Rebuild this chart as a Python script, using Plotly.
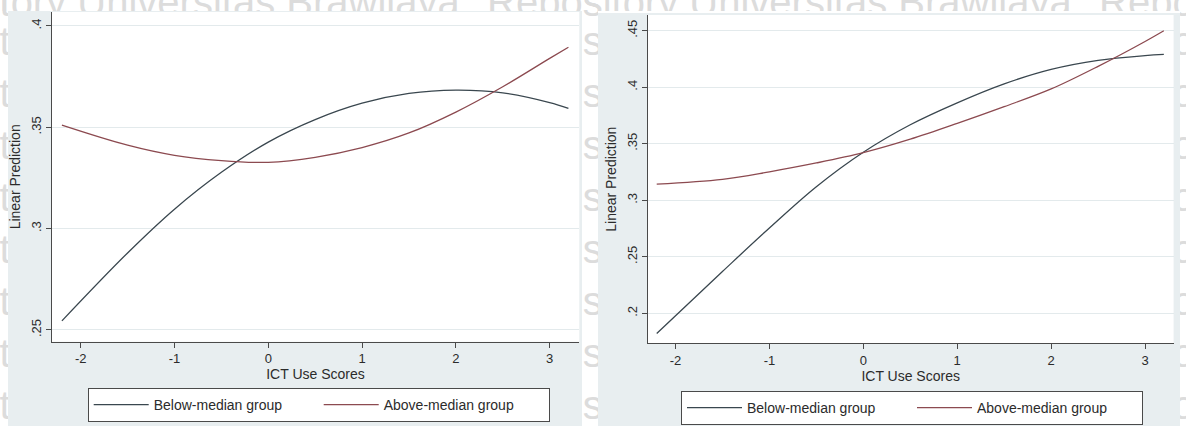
import plotly.graph_objects as go

# ICT use score grid at which the fitted predictions are evaluated
ict_scores = [-2.2, -1.5, -1, -0.5, 0, 0.5, 1, 1.5, 2, 2.5, 3, 3.2]

# Panel 1: linear predictions by group
p1_below = [0.2545, 0.2880, 0.3096, 0.3278, 0.3427, 0.3538, 0.3619, 0.3667, 0.3683, 0.3670, 0.3622, 0.3593]
p1_above = [0.3511, 0.3412, 0.3362, 0.3336, 0.3327, 0.3352, 0.3400, 0.3472, 0.3575, 0.3700, 0.3840, 0.3895]

# Panel 2: linear predictions by group
p2_below = [0.1822, 0.2370, 0.2755, 0.3120, 0.3425, 0.3668, 0.3862, 0.4030, 0.4158, 0.4238, 0.4280, 0.4290]
p2_above = [0.3143, 0.3185, 0.3252, 0.3330, 0.3421, 0.3540, 0.3680, 0.3828, 0.3985, 0.4185, 0.4405, 0.4500]

x_ticks = [-2, -1, 0, 1, 2, 3]
x_ticktext = ["-2", "-1", "0", "1", "2", "3"]
p1_yticks = [0.25, 0.30, 0.35, 0.40]
p1_yticktext = [".25", ".3", ".35", ".4"]
p2_yticks = [0.20, 0.25, 0.30, 0.35, 0.40, 0.45]
p2_yticktext = [".2", ".25", ".3", ".35", ".4", ".45"]

series_names = ["Below-median group", "Above-median group"]

# page watermark behind the two graphs
watermark_text = "Repository Universitas Brawijaya"
watermark_x = [-125, 487, 1099]
watermark_y = [6, 45, 97, 149, 201, 253, 305, 357, 409]

BELOW_COLOR = "#3a474f"
ABOVE_COLOR = "#8c4a50"

W, H = 1186, 426
FONT = "Liberation Sans, Arial, sans-serif"
TEXT = "#2b2b2b"
AXIS = "#4a4a4a"
GRID = "#e3eaec"
REGION = "#e8eef0"
MARK = "#dcdcdc"


def fx(px):
    return px / W


def fy(px):
    return 1 - px / H


fig = go.Figure()

# watermark, shown only in the page strips around the graphs
strips = [
    ("x3", "y3", (0, W), (0, 11)),      # top strip
    ("x4", "y4", (582, 598), (0, H)),   # gap between the graphs
    ("x5", "y5", (0, 8), (0, H)),       # left page edge
    ("x6", "y6", (1180, W), (0, H)),    # right page edge
]
wm_x, wm_y = [], []
for yy in watermark_y:
    for xx in watermark_x:
        wm_x.append(xx)
        wm_y.append(yy)
for xa, ya, _, _ in strips:
    fig.add_trace(go.Scatter(
        x=wm_x, y=wm_y, mode="text", text=[watermark_text] * len(wm_x),
        textposition="middle right", cliponaxis=True, showlegend=False,
        textfont=dict(size=40, color=MARK, family=FONT), hoverinfo="skip",
        xaxis=xa, yaxis=ya,
    ))

panels = [
    ("x", "y", "legend", p1_below, p1_above),
    ("x2", "y2", "legend2", p2_below, p2_above),
]
for xa, ya, leg, below, above in panels:
    fig.add_trace(go.Scatter(
        x=ict_scores, y=below, name=series_names[0], mode="lines",
        line=dict(color=BELOW_COLOR, width=1.3, shape="spline", smoothing=1),
        xaxis=xa, yaxis=ya, legend=leg,
    ))
    fig.add_trace(go.Scatter(
        x=ict_scores, y=above, name=series_names[1], mode="lines",
        line=dict(color=ABOVE_COLOR, width=1.3, shape="spline", smoothing=1),
        xaxis=xa, yaxis=ya, legend=leg,
    ))

xaxis_common = dict(
    tickvals=x_ticks, ticktext=x_ticktext, ticks="outside", ticklen=5,
    tickcolor=AXIS, showline=True, linecolor=AXIS, linewidth=1,
    showgrid=False, zeroline=False, mirror=False,
    tickfont=dict(size=13, color=TEXT, family=FONT),
    title=dict(text="ICT Use Scores", font=dict(size=14, color=TEXT, family=FONT), standoff=2),
)
yaxis_common = dict(
    ticks="outside", ticklen=5, tickcolor=AXIS, showline=True, linecolor=AXIS,
    linewidth=1, showgrid=True, gridcolor=GRID, gridwidth=1, zeroline=False,
    tickangle=-90, tickfont=dict(size=13, color=TEXT, family=FONT),
    title=dict(text="Linear Prediction", font=dict(size=14, color=TEXT, family=FONT), standoff=4),
)

legend_common = dict(
    orientation="h", xanchor="left", yanchor="top",
    bgcolor="white", bordercolor=AXIS, borderwidth=1,
    font=dict(size=14, color=TEXT, family=FONT),
    itemwidth=55, entrywidth=160, traceorder="normal",
)

hidden_axis = dict(visible=False, showgrid=False, zeroline=False, fixedrange=True)

layout_axes = {}
for xa, ya, (x0, x1), (y0, y1) in strips:
    xn = "xaxis" + xa[1:]
    yn = "yaxis" + ya[1:]
    layout_axes[xn] = dict(domain=[fx(x0), fx(x1)], range=[x0, x1], anchor=ya, **hidden_axis)
    layout_axes[yn] = dict(domain=[fy(y1), fy(y0)], range=[y1, y0], anchor=xa, **hidden_axis)

fig.update_layout(
    width=W, height=H, margin=dict(l=0, r=0, t=0, b=0),
    paper_bgcolor="white", plot_bgcolor="rgba(0,0,0,0)",
    showlegend=True,
    xaxis=dict(domain=[fx(51.7), fx(579.3)], range=[-2.309, 3.316], anchor="y", **xaxis_common),
    yaxis=dict(domain=[fy(341.7), fy(12)], range=[0.2442, 0.4069], anchor="x",
               tickvals=p1_yticks, ticktext=p1_yticktext, **yaxis_common),
    xaxis2=dict(domain=[fx(647.7), fx(1173.6)], range=[-2.296, 3.304], anchor="y2", **xaxis_common),
    yaxis2=dict(domain=[fy(343.3), fy(15)], range=[0.1735, 0.4639], anchor="x2",
                tickvals=p2_yticks, ticktext=p2_yticktext, **yaxis_common),
    legend=dict(x=fx(87.7), y=fy(388), **legend_common),
    legend2=dict(x=fx(681), y=fy(391), **legend_common),
    shapes=[
        # outer graph regions
        dict(type="rect", xref="paper", yref="paper", x0=fx(8), x1=fx(582), y0=0, y1=fy(11),
             fillcolor=REGION, line=dict(width=0), layer="below"),
        dict(type="rect", xref="paper", yref="paper", x0=fx(598), x1=fx(1180), y0=0, y1=fy(13),
             fillcolor=REGION, line=dict(width=0), layer="below"),
        # white plot regions
        dict(type="rect", xref="paper", yref="paper", x0=fx(51.7), x1=fx(579.3), y0=fy(341.7), y1=fy(12),
             fillcolor="white", line=dict(width=0), layer="below"),
        dict(type="rect", xref="paper", yref="paper", x0=fx(647.7), x1=fx(1173.6), y0=fy(343.3), y1=fy(15),
             fillcolor="white", line=dict(width=0), layer="below"),
    ],
    **layout_axes,
)

fig.write_html("out.html")
